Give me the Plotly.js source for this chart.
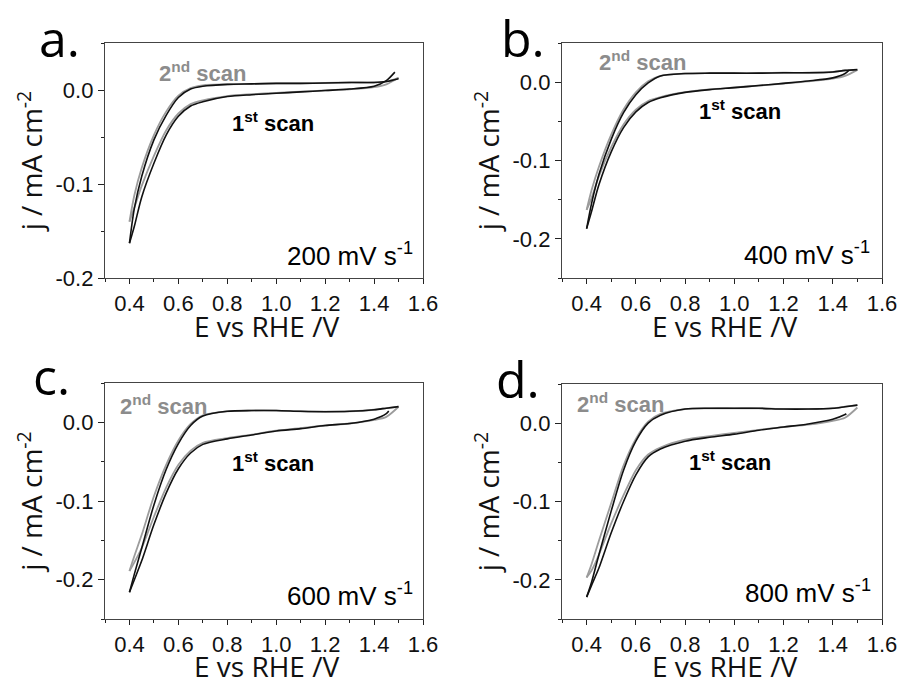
<!DOCTYPE html>
<html>
<head>
<meta charset="utf-8">
<script src="https://cdn.plot.ly/plotly-3.0.1.min.js"></script>
<style>
html,body{margin:0;padding:0;background:#fff;}
#chart{width:901px;height:681px;}
</style>
</head>
<body>
<div id="chart"></div>
<script>
// Potential grid (V vs RHE)
const E = [0.40,0.42,0.45,0.50,0.55,0.60,0.65,0.70,0.80,0.90,1.00,1.10,1.20,1.30,1.40,1.45,1.50];

// Panel a (200 mV/s) current densities, mA cm^-2
const a_scan1_up   = [-0.163,-0.126,-0.092,-0.053,-0.027,-0.008,0.001,0.004,0.006,0.0065,0.007,0.007,0.0075,0.008,0.008,0.009,0.012];
const a_scan1_down = [-0.163,-0.145,-0.114,-0.078,-0.048,-0.028,-0.017,-0.0125,-0.007,-0.005,-0.0035,-0.002,-0.0005,0.001,0.004,0.010];
const a_scan2_up   = [-0.140,-0.112,-0.083,-0.048,-0.023,-0.006,0.002,0.005,0.006,0.0065,0.007,0.007,0.0075,0.008,0.008,0.009,0.013];
const a_scan2_down = [-0.140,-0.125,-0.102,-0.070,-0.043,-0.025,-0.015,-0.011,-0.0065,-0.0045,-0.003,-0.0018,-0.0005,0.0008,0.003,0.006,0.013];

// Panel b (400 mV/s)
const b_scan1_up   = [-0.187,-0.155,-0.118,-0.073,-0.039,-0.016,-0.001,0.008,0.011,0.0115,0.0115,0.0115,0.012,0.012,0.013,0.015,0.016];
const b_scan1_down = [-0.187,-0.165,-0.131,-0.089,-0.058,-0.038,-0.026,-0.020,-0.013,-0.0095,-0.007,-0.0043,-0.0015,0.0015,0.0055,0.011];
const b_scan2_up   = [-0.163,-0.138,-0.108,-0.067,-0.035,-0.013,0.001,0.008,0.011,0.0115,0.0115,0.0115,0.012,0.012,0.013,0.015,0.0157];
const b_scan2_down = [-0.163,-0.148,-0.120,-0.083,-0.054,-0.035,-0.024,-0.019,-0.0128,-0.0093,-0.0068,-0.0043,-0.0017,0.001,0.0045,0.008,0.0157];

// Panel c (600 mV/s)
const c_scan1_up   = [-0.216,-0.193,-0.160,-0.105,-0.060,-0.027,-0.004,0.008,0.014,0.015,0.015,0.014,0.0135,0.014,0.016,0.018,0.020];
const c_scan1_down = [-0.216,-0.200,-0.176,-0.130,-0.090,-0.059,-0.039,-0.028,-0.021,-0.016,-0.011,-0.008,-0.004,-0.0015,0.004,0.011];
const c_scan2_up   = [-0.189,-0.170,-0.143,-0.094,-0.054,-0.023,-0.002,0.009,0.014,0.015,0.015,0.014,0.0135,0.014,0.016,0.018,0.0198];
const c_scan2_down = [-0.189,-0.178,-0.160,-0.120,-0.083,-0.054,-0.036,-0.026,-0.020,-0.0155,-0.0105,-0.0075,-0.004,-0.0015,0.003,0.007,0.0198];

// Panel d (800 mV/s)
const d_scan1_up   = [-0.222,-0.203,-0.168,-0.112,-0.060,-0.023,0.000,0.010,0.018,0.019,0.019,0.019,0.018,0.018,0.019,0.021,0.023];
const d_scan1_down = [-0.222,-0.207,-0.185,-0.140,-0.100,-0.066,-0.043,-0.033,-0.023,-0.018,-0.014,-0.009,-0.005,-0.001,0.005,0.011];
const d_scan2_up   = [-0.197,-0.180,-0.150,-0.102,-0.054,-0.020,0.002,0.012,0.018,0.019,0.019,0.019,0.018,0.018,0.019,0.021,0.023];
const d_scan2_down = [-0.197,-0.188,-0.168,-0.128,-0.092,-0.060,-0.040,-0.031,-0.021,-0.0165,-0.0125,-0.0085,-0.005,-0.002,0.003,0.007,0.020];

// First-scan starting point (E, j) for each panel
const scan1StartE = [1.485, 1.465, 1.46, 1.455];
const scan1StartJ = [0.019, 0.015, 0.0145, 0.012];

const panelLetters = ['a.','b.','c.','d.'];
const scanRates = ['200 mV s<sup>-1</sup>','400 mV s<sup>-1</sup>','600 mV s<sup>-1</sup>','800 mV s<sup>-1</sup>'];
const xTitle = 'E vs RHE /V';
const yTitle = 'j / mA cm<sup>-2</sup>';
const xTickVals = [0.4,0.6,0.8,1.0,1.2,1.4,1.6];
const xTickText = ['0.4','0.6','0.8','1.0','1.2','1.4','1.6'];
const yTickVals = [-0.2,-0.1,0.0];
const yTickText = ['-0.2','-0.1','0.0'];
const yRanges = [[-0.2,0.05],[-0.25,0.05],[-0.25,0.05],[-0.25,0.05]];

const series = [
  [a_scan1_up,a_scan1_down,a_scan2_up,a_scan2_down],
  [b_scan1_up,b_scan1_down,b_scan2_up,b_scan2_down],
  [c_scan1_up,c_scan1_down,c_scan2_up,c_scan2_down],
  [d_scan1_up,d_scan1_down,d_scan2_up,d_scan2_down]
];

// layout geometry (pixels in 901x681)
const W = 901, H = 681;
const boxes = [
  {l:105, r:423, t:43, b:278},
  {l:562, r:882, t:43, b:278},
  {l:105, r:423, t:383, b:619},
  {l:562, r:882, t:384, b:619}
];
const px = v => v / W;
const py = v => 1 - v / H;

const BLACK = '#111111', GRAY = '#9c9c9c';
const traces = [];
series.forEach((s, i) => {
  const [s1u, s1d, s2u, s2d] = s;
  const xa = i === 0 ? 'x' : 'x' + (i + 1);
  const ya = i === 0 ? 'y' : 'y' + (i + 1);
  // 2nd scan (gray): lower branch 1.5 -> 0.4, then upper branch 0.4 -> 1.5
  const gx = [], gy = [];
  for (let k = E.length - 1; k >= 0; k--) { gx.push(E[k]); gy.push(s2d[k]); }
  gx.push(null); gy.push(null);
  for (let k = 0; k < E.length; k++) { gx.push(E[k]); gy.push(s2u[k]); }
  traces.push({x: gx, y: gy, xaxis: xa, yaxis: ya, mode: 'lines', name: '2nd scan',
    line: {color: GRAY, width: 1.8, shape: 'spline', smoothing: 0.8}, connectgaps: false,
    showlegend: false, hoverinfo: 'skip'});
  // 1st scan (black)
  const bx = [scan1StartE[i]], by = [scan1StartJ[i]];
  for (let k = s1d.length - 1; k >= 0; k--) { bx.push(E[k]); by.push(s1d[k]); }
  bx.push(null); by.push(null);
  for (let k = 0; k < E.length; k++) { bx.push(E[k]); by.push(s1u[k]); }
  traces.push({x: bx, y: by, xaxis: xa, yaxis: ya, mode: 'lines', name: '1st scan',
    line: {color: BLACK, width: 1.6, shape: 'spline', smoothing: 0.8}, connectgaps: false,
    showlegend: false, hoverinfo: 'skip'});
});

const tickFont = {family: 'Liberation Sans, Arial, sans-serif', size: 22, color: '#111'};
const titleFont = {family: 'Open Sans, sans-serif', size: 28, color: '#111'};

const layout = {
  width: W, height: H,
  margin: {l: 0, r: 0, t: 0, b: 0},
  paper_bgcolor: '#fff', plot_bgcolor: '#fff',
  showlegend: false,
  annotations: []
};

const xMinor = [0.3,0.5,0.7,0.9,1.1,1.3,1.5];
boxes.forEach((bx, i) => {
  const n = i === 0 ? '' : String(i + 1);
  const yMinor = i === 0 ? [-0.15,-0.05,0.05] : [-0.25,-0.15,-0.05,0.05];
  layout['xaxis' + n] = {
    domain: [px(bx.l), px(bx.r)], range: [0.3, 1.6], anchor: 'y' + n,
    tickmode: 'array', tickvals: xTickVals, ticktext: xTickText,
    ticks: 'outside', ticklen: 5, tickwidth: 1, tickcolor: '#222',
    minor: {tickmode: 'array', tickvals: xMinor, ticks: 'outside', ticklen: 3, tickcolor: '#222', showgrid: false},
    showline: true, linecolor: '#444', linewidth: 1.2, mirror: true,
    showgrid: false, zeroline: false, tickfont: tickFont
  };
  layout['yaxis' + n] = {
    domain: [py(bx.b), py(bx.t)], range: yRanges[i], anchor: 'x' + n,
    tickmode: 'array', tickvals: yTickVals, ticktext: yTickText,
    ticks: 'outside', ticklen: 6, tickwidth: 1, tickcolor: '#222',
    minor: {tickmode: 'array', tickvals: yMinor, ticks: 'outside', ticklen: 3, tickcolor: '#222', showgrid: false},
    showline: true, linecolor: '#444', linewidth: 1.2, mirror: true,
    showgrid: false, zeroline: false, tickfont: tickFont,
    title: {text: yTitle, font: titleFont, standoff: 4}
  };
  // x-axis title placed under each panel
  const yOff = i < 2 ? 48 : 47;
  layout.annotations.push({
    text: xTitle, xref: 'paper', yref: 'paper', showarrow: false, borderpad: 0,
    x: px((bx.l + bx.r) / 2 + 2), y: py(bx.b + yOff), xanchor: 'center', yanchor: 'middle',
    font: titleFont
  });
});

// annotation pixel positions
const letterPos = [[38,56],[500,56],[32,394],[495,397]];
const scan2Pos = [[157,79],[597,68],[118,412],[575,410]];
const scan1Pos = [[230,129],[697,117],[230,469],[687,468]];
const ratePos = [[415,263],[872,262],[415,603],[873,600]];

for (let i = 0; i < 4; i++) {
  layout.annotations.push({
    text: panelLetters[i], xref: 'paper', yref: 'paper', showarrow: false, borderpad: 0,
    x: px(letterPos[i][0]), y: py(letterPos[i][1] - 53), xanchor: 'left', yanchor: 'top',
    font: {family: 'Open Sans, sans-serif', size: 50, color: '#000'}
  });
  layout.annotations.push({
    text: '2<sup>nd</sup> scan', xref: 'paper', yref: 'paper', showarrow: false,
    x: px(scan2Pos[i][0]), y: py(scan2Pos[i][1] - 7), xanchor: 'left', yanchor: 'middle',
    font: {family: 'Liberation Sans, Arial, sans-serif', size: 22, color: '#8c8c8c', weight: 'bold'}
  });
  layout.annotations.push({
    text: '1<sup>st</sup> scan', xref: 'paper', yref: 'paper', showarrow: false,
    x: px(scan1Pos[i][0]), y: py(scan1Pos[i][1] - 7), xanchor: 'left', yanchor: 'middle',
    font: {family: 'Liberation Sans, Arial, sans-serif', size: 22, color: '#000', weight: 'bold'}
  });
  layout.annotations.push({
    text: scanRates[i], xref: 'paper', yref: 'paper', showarrow: false,
    x: px(ratePos[i][0]), y: py(ratePos[i][1] - 9), xanchor: 'right', yanchor: 'middle',
    font: {family: 'Liberation Sans, Arial, sans-serif', size: 26, color: '#000'}
  });
}

Plotly.newPlot('chart', traces, layout, {staticPlot: true, displayModeBar: false});
</script>
</body>
</html>
